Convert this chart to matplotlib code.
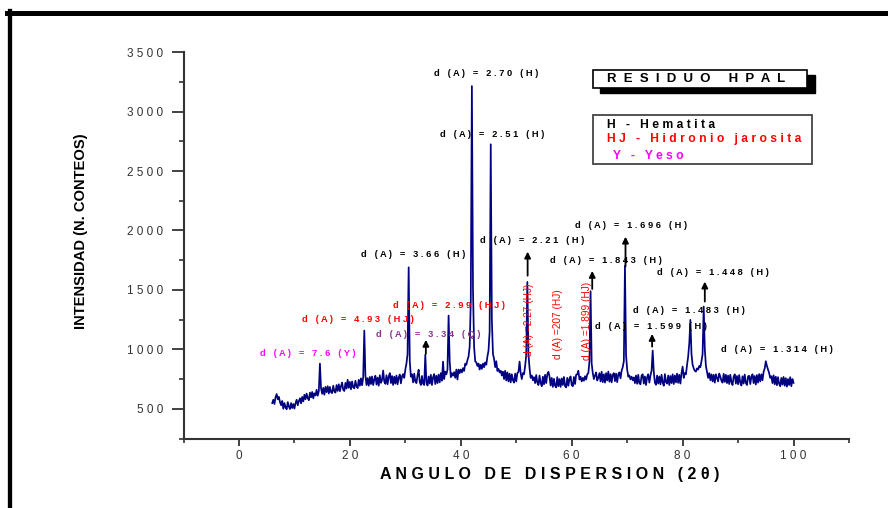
import numpy as np
import matplotlib
matplotlib.use("Agg")
import matplotlib.pyplot as plt
from matplotlib.patches import Rectangle
from matplotlib.lines import Line2D

plt.rcParams['font.family'] = ['Liberation Sans', 'DejaVu Sans']

# --- data (2theta step 0.2 deg, 6..100) ---
two_theta = np.round(np.arange(6.0, 100.01, 0.2), 1)
counts = [
    548, 576, 540, 598, 624, 580, 600, 556, 530, 566,    # 6-8
    500, 548, 512, 496, 556, 520, 498, 548, 506, 540,    # 8-10
    502, 548, 576, 530, 566, 588, 546, 600, 562, 618,    # 10-12
    580, 628, 590, 572, 636, 596, 642, 588, 630, 612,    # 12-14
    660, 610, 648, 880, 672, 626, 676, 618, 684, 640,    # 14-16
    690, 628, 684, 640, 632, 694, 648, 636, 700, 650,    # 16-18
    706, 648, 690, 720, 660, 650, 718, 670, 744, 676,    # 18-20
    726, 664, 730, 680, 672, 736, 690, 674, 744, 694,    # 20-22
    756, 698, 764, 1158, 780, 700, 758, 694, 768, 708,   # 22-24
    772, 700, 746, 778, 704, 762, 694, 782, 718, 742,    # 24-26
    822, 728, 710, 782, 706, 770, 800, 716, 776, 700,    # 26-28
    770, 712, 780, 706, 762, 788, 714, 772, 792, 760,    # 28-30
    830, 880, 960, 1690, 900, 770, 790, 722, 796, 730,   # 30-32
    716, 782, 828, 726, 700, 776, 712, 700, 955, 722,    # 32-34
    696, 772, 712, 786, 700, 766, 792, 708, 778, 716,    # 34-36
    788, 722, 800, 736, 897, 750, 812, 790, 830, 1284,   # 36-38
    900, 766, 800, 778, 808, 760, 830, 746, 830, 800,    # 38-40
    830, 806, 842, 818, 880, 870, 910, 940, 1023, 1400,  # 40-42
    3215, 1500, 1020, 900, 890, 860, 880, 830, 870, 836, # 42-44
    880, 850, 890, 870, 940, 990, 1150, 2725, 1250, 960, # 44-46
    920, 850, 900, 818, 836, 806, 820, 780, 812, 750,    # 46-48
    820, 738, 806, 730, 796, 722, 790, 740, 720, 796,    # 48-50
    730, 800, 810, 897, 800, 750, 800, 790, 860, 950,    # 50-52
    1567, 960, 840, 760, 780, 740, 766, 716, 784, 720,   # 52-54
    700, 780, 716, 690, 770, 706, 786, 716, 790, 811,    # 54-56
    770, 696, 760, 684, 752, 694, 680, 766, 690, 750,    # 56-58
    684, 756, 700, 768, 690, 680, 760, 694, 752, 772,    # 58-60
    700, 690, 768, 708, 786, 790, 820, 746, 770, 730,    # 60-62
    760, 736, 774, 746, 790, 800, 900, 1489, 880, 800,   # 62-64
    750, 780, 806, 738, 760, 800, 730, 812, 724, 790,    # 64-66
    720, 800, 738, 813, 728, 792, 722, 786, 800, 732,    # 66-68
    796, 724, 790, 806, 756, 820, 850, 900, 1704, 950,   # 68-70
    830, 770, 780, 748, 770, 740, 764, 716, 780, 710,    # 70-72
    786, 716, 706, 780, 790, 712, 772, 700, 766, 790,    # 72-74
    720, 780, 820, 990, 810, 720, 702, 780, 712, 772,    # 74-76
    706, 786, 720, 694, 792, 724, 712, 780, 700, 776,    # 76-78
    716, 790, 708, 780, 722, 796, 718, 786, 712, 800,    # 78-80
    855, 760, 800, 790, 870, 940, 1050, 1248, 960, 870,  # 80-82
    840, 820, 813, 840, 830, 860, 850, 900, 960, 1360,   # 82-84
    1000, 860, 810, 760, 800, 740, 790, 730, 786, 720,   # 84-86
    790, 760, 730, 796, 770, 736, 720, 794, 726, 786,    # 86-88
    716, 780, 708, 786, 726, 700, 770, 790, 712, 776,    # 88-90
    706, 784, 720, 696, 774, 712, 788, 718, 700, 772,    # 90-92
    778, 708, 770, 790, 716, 776, 704, 784, 720, 792,    # 92-94
    730, 790, 740, 810, 840, 900, 860, 830, 800, 760,    # 94-96
    774, 716, 782, 706, 770, 698, 766, 710, 690, 760,    # 96-98
    704, 768, 694, 758, 686, 750, 700, 766, 690, 750,    # 98-100
    718,
]

# peak labels: text, x, y, colour
labels = [
    ("d (A) = 2.70 (H)", 35.15, 3323, "black"),
    ("d (A) = 2.51 (H)", 36.24, 2811, "black"),
    ("d (A) = 3.66 (H)", 22.0, 1794, "black"),
    ("d (A) = 2.21 (H)", 43.45, 1912, "black"),
    ("d (A) = 1.696 (H)", 60.57, 2046, "black"),
    ("d (A) = 1.843 (H)", 56.07, 1744, "black"),
    ("d (A) = 1.448 (H)", 75.36, 1643, "black"),
    ("d (A) = 1.483 (H)", 71.03, 1323, "black"),
    ("d (A) = 1.599 (H)", 64.18, 1189, "black"),
    ("d (A) = 1.314 (H)", 86.89, 996, "black"),
    ("d (A) = 2.99 (HJ)", 27.76, 1366, "#ff0000"),
    ("d (A) = 4.93 (HJ)", 11.36, 1248, "#ff0000"),
    ("d (A) = 3.34 (Q)", 24.7, 1122, "#8b2f8b"),
    ("d (A) = 7.6 (Y)", 3.79, 962, "#ff00ff"),
]
vlabels = [
    ("d (A) =2.27 (HJ)", 52.28, 1252),
    ("d (A) =207 (HJ)", 57.51, 1210),
    ("d (A) =1.899 (HJ)", 62.79, 1235),
]
# arrows: x, tail, tip
arrows = [
    (33.7, 962, 1080),
    (52.05, 1620, 1822),
    (63.7, 1508, 1660),
    (69.7, 1696, 1948),
    (74.5, 1023, 1130),
    (84.0, 1402, 1570),
]
legend_lines = [("H - Hematita", "black", 607),
                ("HJ - Hidronio jarosita", "#ff0000", 607),
                ("Y - Yeso", "#ff00ff", 613)]


def spread(s, gap=1):
    return (" " * gap).join(s)


W, H = 888, 508
fx = lambda px: px / W
fy = lambda py: 1 - py / H

fig = plt.figure(figsize=(W / 100, H / 100), dpi=100)
ax = fig.add_axes([fx(183.5), fy(438.5), (849 - 183.5) / W, (438.5 - 52.2) / H])

ax.plot(two_theta, counts, color="#000080", lw=1.25)

ax.set_xlim(-10, 110)
ax.set_ylim(250, 3500)
xt = [0, 20, 40, 60, 80, 100]
yt = [500, 1000, 1500, 2000, 2500, 3000, 3500]
ax.set_xticks(xt)
ax.set_xticklabels([spread(str(v)) for v in xt])
ax.set_xticks(np.arange(-10, 111, 10), minor=True)
ax.set_yticks(yt)
ax.set_yticklabels([spread(str(v)) for v in yt])
ax.set_yticks(np.arange(250, 3500, 250), minor=True)

for s in ["top", "right"]:
    ax.spines[s].set_visible(False)
for s in ["left", "bottom"]:
    ax.spines[s].set_linewidth(1.5)
    ax.spines[s].set_color("#333333")
ax.tick_params(axis="y", which="major", length=8.4, width=1.3, pad=6,
               labelsize=8.5, colors="#333333")
ax.tick_params(axis="y", which="minor", length=3.6, width=1.2, colors="#333333")
ax.tick_params(axis="x", which="major", length=5, width=1.3, pad=3.5,
               labelsize=8.5, colors="#333333")
ax.tick_params(axis="x", which="minor", length=3, width=1.2, colors="#333333")

for txt, x, y, c in labels:
    ax.text(x, y, spread(txt), color=c, fontsize=6.7, fontweight="bold",
            ha="left", va="center")
for txt, x, y in vlabels:
    ax.text(x, y, txt, color="#ff0000", fontsize=7.3, rotation=90,
            ha="center", va="center")
for x, tail, tip in arrows:
    ax.annotate("", xy=(x, tip), xytext=(x, tail),
                arrowprops=dict(arrowstyle="-|>", color="black", lw=1.3,
                                mutation_scale=9, shrinkA=0, shrinkB=0))

# axis titles
fig.text(fx(550), fy(475), spread("ANGULO DE DISPERSION (2θ)"),
         fontsize=11.5, fontweight="bold", ha="center", va="center")
fig.text(fx(80.5), fy(231), "INTENSIDAD (N. CONTEOS)", fontsize=10.6,
         fontweight="bold", rotation=90, ha="center", va="center")

# title box with shadow
fig.add_artist(Rectangle((fx(600), fy(93)), (815 - 600) / W, (93 - 75) / H,
                         transform=fig.transFigure, facecolor="black",
                         edgecolor="black"))
fig.add_artist(Rectangle((fx(593), fy(88)), (807 - 593) / W, (88 - 70) / H,
                         transform=fig.transFigure, facecolor="white",
                         edgecolor="black", lw=1.2))
fig.text(fx(607), fy(79.5), spread("RESIDUO HPAL", 2), fontsize=9.5,
         fontweight="bold", ha="left", va="center")

# legend box
fig.add_artist(Rectangle((fx(593), fy(164)), (812 - 593) / W, (164 - 115) / H,
                         transform=fig.transFigure, facecolor="white",
                         edgecolor="#444444", lw=1.3))
for (txt, c, px), py in zip(legend_lines, [125, 139, 156]):
    fig.text(fx(px), fy(py), spread(txt), color=c, fontsize=8.7,
             fontweight="bold", ha="left", va="center")

# outer frame (top and left edges)
fig.add_artist(Line2D([fx(7), 1], [fy(12.5), fy(12.5)], color="black", lw=3.6,
                      transform=fig.transFigure))
fig.add_artist(Line2D([fx(9.5), fx(9.5)], [0, fy(10.5)], color="black", lw=3.1,
                      transform=fig.transFigure))

fig.savefig("out.png", dpi=100)
